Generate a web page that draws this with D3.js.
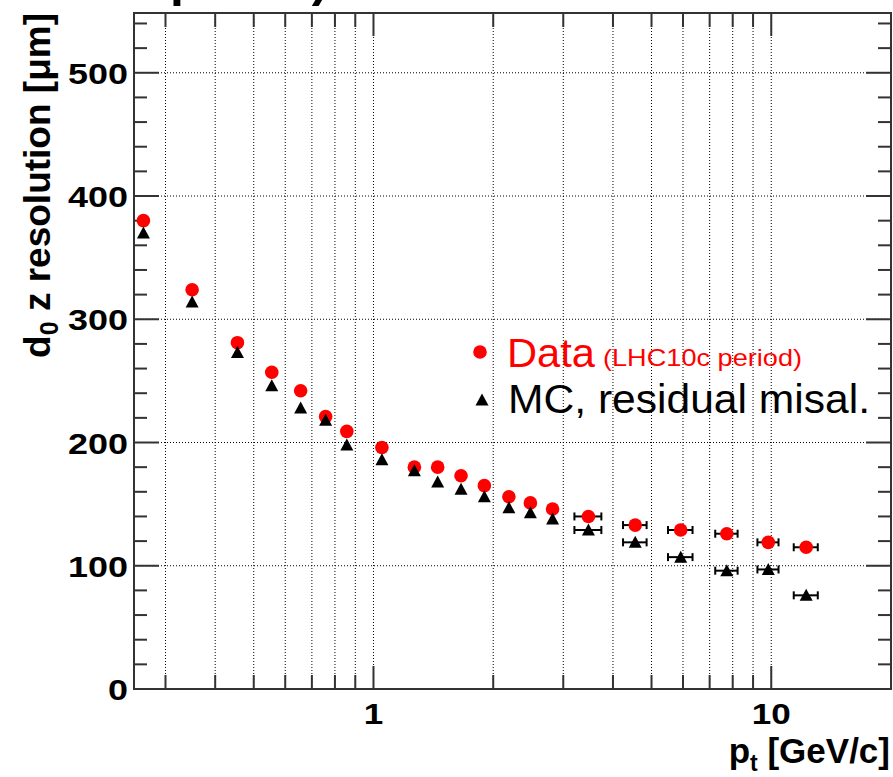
<!DOCTYPE html>
<html>
<head>
<meta charset="utf-8">
<script src="https://cdn.jsdelivr.net/npm/d3@7"></script>
<style>
  html, body { margin: 0; padding: 0; background: #fff; }
  svg { display: block; }
  text { font-family: "Liberation Sans", Arial, sans-serif; }
</style>
</head>
<body>
<svg id="chart" width="893" height="777"></svg>
<script>
// ---- data ----
const ptValues = [0.264, 0.35, 0.455, 0.555, 0.656, 0.758, 0.857, 1.05, 1.267, 1.45, 1.66, 1.9, 2.19, 2.48, 2.82, 3.47, 4.55, 5.92, 7.73, 9.83, 12.24];
const ptErrors = [0, 0, 0, 0, 0, 0, 0, 0, 0, 0, 0, 0, 0, 0, 0, 0.27, 0.31, 0.42, 0.5, 0.6, 0.85];
const dataRes  = [380, 324, 281, 257, 242, 221, 209, 196, 180, 180, 173, 165, 156, 151, 146, 140, 133, 129, 126, 119, 115];
const mcRes    = [370, 314, 273, 246, 228, 218, 198, 186, 177, 168, 162, 156, 147, 143, 138, 129, 119, 107, 96, 97, 76];
const yTickValues = [0, 100, 200, 300, 400, 500];
const xTickLabelValues = [1, 10];
const legendLabels = ["Data", "(LHC10c period)", "MC, residual misal."];

// ---- layout ----
const L = 134, R = 891, T = 13, B = 689;
const svg = d3.select("#chart");
const x = d3.scaleLog().domain([0.25, 20]).range([L, R]);
const y = d3.scaleLinear().domain([0, 548.5]).range([B, T]);

// title, mostly above the visible area (only descenders show)
svg.append("text").attr("x", 170).attr("y", -4)
  .attr("font-size", 50).attr("font-weight", "bold").text("pass2)");

// grid
const xGrid = [0.3,0.4,0.5,0.6,0.7,0.8,0.9,1,2,3,4,5,6,7,8,9,10];
svg.append("g").selectAll("line").data(xGrid).join("line")
  .attr("x1", d => x(d)).attr("x2", d => x(d)).attr("y1", T).attr("y2", B)
  .attr("stroke", "#000").attr("stroke-width", 1).attr("stroke-dasharray", "1,2");
svg.append("g").selectAll("line").data(yTickValues.filter(d => d > 0)).join("line")
  .attr("x1", L).attr("x2", R).attr("y1", d => y(d)).attr("y2", d => y(d))
  .attr("stroke", "#000").attr("stroke-width", 1).attr("stroke-dasharray", "1,2");

// ticks
const yMinor = d3.range(0, 541, 20);
const tickG = svg.append("g").attr("stroke", "#333").attr("stroke-width", 2);
yMinor.forEach(v => {
  const len = v % 100 === 0 ? 25 : 13;
  tickG.append("line").attr("x1", L).attr("x2", L + len).attr("y1", y(v)).attr("y2", y(v));
  tickG.append("line").attr("x1", R).attr("x2", R - len).attr("y1", y(v)).attr("y2", y(v));
});
xGrid.forEach(v => {
  const len = (v === 1 || v === 10) ? 23 : 14;
  tickG.append("line").attr("x1", x(v)).attr("x2", x(v)).attr("y1", B).attr("y2", B - len);
  tickG.append("line").attr("x1", x(v)).attr("x2", x(v)).attr("y1", T).attr("y2", T + len);
});

// frame
svg.append("rect").attr("x", L).attr("y", T).attr("width", R - L).attr("height", B - T)
  .attr("fill", "none").attr("stroke", "#333").attr("stroke-width", 2);

// y tick labels
svg.append("g").selectAll("text").data(yTickValues).join("text")
  .attr("x", 128).attr("y", d => y(d) + 11)
  .attr("text-anchor", "end").attr("font-size", 30).attr("font-weight", "bold")
  .attr("textLength", d => String(d).length * 20).attr("lengthAdjust", "spacingAndGlyphs")
  .text(d => d);

// x tick labels
svg.append("g").selectAll("text").data(xTickLabelValues).join("text")
  .attr("x", d => x(d)).attr("y", 724)
  .attr("text-anchor", "middle").attr("font-size", 30).attr("font-weight", "bold")
  .attr("textLength", d => String(d).length * 19.5).attr("lengthAdjust", "spacingAndGlyphs")
  .text(d => d);

// axis titles
const xt = svg.append("text").attr("x", 890).attr("y", 763)
  .attr("text-anchor", "end").attr("font-size", 35).attr("font-weight", "bold");
xt.append("tspan").text("p");
xt.append("tspan").attr("font-size", 23).attr("dy", 8).text("t");
xt.append("tspan").attr("dy", -8).text(" [GeV/c]");

const yt = svg.append("text").attr("transform", "translate(50," + T + ") rotate(-90)")
  .attr("text-anchor", "end").attr("font-size", 37).attr("font-weight", "bold");
yt.append("tspan").text("d");
yt.append("tspan").attr("font-size", 25).attr("dy", 8).text("0");
yt.append("tspan").attr("dy", -8).text(" z resolution [\u03bcm]");

// markers
const triPath = "M0,-6.5L6.5,5.5L-6.5,5.5Z";
function drawSeries(vals, color, kind) {
  const g = svg.append("g");
  const idx = d3.range(ptValues.length);
  const eb = g.append("g").attr("stroke", "#000").attr("stroke-width", 2);
  idx.filter(i => ptErrors[i] > 0).forEach(i => {
    const yy = y(vals[i]), x0 = x(ptValues[i] - ptErrors[i]), x1 = x(ptValues[i] + ptErrors[i]);
    eb.append("line").attr("x1", x0).attr("x2", x1).attr("y1", yy).attr("y2", yy);
    eb.append("line").attr("x1", x0).attr("x2", x0).attr("y1", yy - 4).attr("y2", yy + 4);
    eb.append("line").attr("x1", x1).attr("x2", x1).attr("y1", yy - 4).attr("y2", yy + 4);
  });
  if (kind === "circle") {
    g.selectAll("circle").data(idx).join("circle")
      .attr("cx", i => x(ptValues[i])).attr("cy", i => y(vals[i])).attr("r", 6.8).attr("fill", color);
  } else {
    g.selectAll("path").data(idx).join("path")
      .attr("transform", i => `translate(${x(ptValues[i])},${y(vals[i])})`)
      .attr("d", triPath).attr("fill", color);
  }
}
drawSeries(dataRes, "#ff0000", "circle");
drawSeries(mcRes, "#000", "triangle");

// legend
const lg = svg.append("g");
lg.append("circle").attr("cx", 480).attr("cy", 352).attr("r", 6.8).attr("fill", "#ff0000");
lg.append("path").attr("transform", "translate(482,400)").attr("d", triPath).attr("fill", "#000");
lg.append("text").attr("x", 507).attr("y", 367).attr("font-size", 40).attr("fill", "#ff0000")
  .attr("textLength", 88).attr("lengthAdjust", "spacingAndGlyphs").text(legendLabels[0]);
lg.append("text").attr("x", 603).attr("y", 366).attr("font-size", 24).attr("fill", "#ff0000")
  .attr("textLength", 199).attr("lengthAdjust", "spacingAndGlyphs").text(legendLabels[1]);
lg.append("text").attr("x", 508).attr("y", 413).attr("font-size", 40).attr("fill", "#000")
  .attr("textLength", 362).attr("lengthAdjust", "spacingAndGlyphs").text(legendLabels[2]);
</script>
</body>
</html>
